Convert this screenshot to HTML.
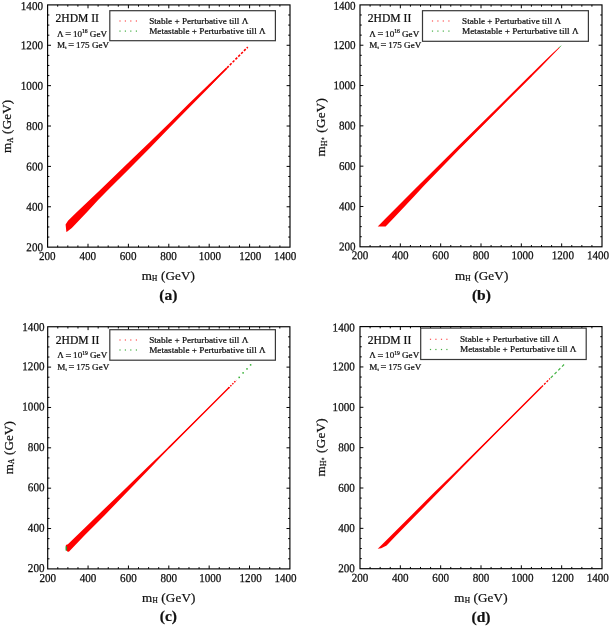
<!DOCTYPE html>
<html lang="en">
<head>
<meta charset="utf-8">
<title>2HDM II mass planes</title>
<style>
html,body{margin:0;padding:0;background:#fff;}
svg{display:block;will-change:transform;}
svg text{font-family:'Liberation Serif', 'DejaVu Serif', serif;fill:#111;stroke:#111;stroke-width:0.24;}
</style>
</head>
<body>
<svg width="610" height="626" viewBox="0 0 610 626">
<rect width="610" height="626" fill="#fff"/>
<polygon points="66.39,232.01 65.58,224.54 68,220.7 75.88,213.03 100.12,190.02 129.81,161.35 149.61,142.18 169.41,122.9 189,103.62 209.2,83.93 219.3,74.45 226.37,67.89 226.37,68.89 219.3,76.46 209.2,87.16 189,107.86 169.41,127.74 149.61,148.13 129.81,168.32 108.2,189.72 98.1,200.01 88,211.01 71.84,227.97 66.99,231.81" fill="#f00"/>
<line x1="209.2" y1="85.65" x2="226.77" y2="68.09" stroke="#f00" stroke-width="1.7"/>
<line x1="226.98" y1="67.89" x2="247.78" y2="47.09" stroke="#f00" stroke-width="1.6" stroke-dasharray="2.5 1.5"/>
<rect x="47.6" y="4.9" width="242.4" height="242.25" fill="none" stroke="#000" stroke-width="1.15"/>
<path d="M57.7 247.15v-1.75M57.7 4.9v1.75M47.6 237.06h1.75M290 237.06h-1.75M67.8 247.15v-1.75M67.8 4.9v1.75M47.6 226.96h1.75M290 226.96h-1.75M77.9 247.15v-1.75M77.9 4.9v1.75M47.6 216.87h1.75M290 216.87h-1.75M88 247.15v-3.4M88 4.9v3.4M47.6 206.78h3.4M290 206.78h-3.4M98.1 247.15v-1.75M98.1 4.9v1.75M47.6 196.68h1.75M290 196.68h-1.75M108.2 247.15v-1.75M108.2 4.9v1.75M47.6 186.59h1.75M290 186.59h-1.75M118.3 247.15v-1.75M118.3 4.9v1.75M47.6 176.49h1.75M290 176.49h-1.75M128.4 247.15v-3.4M128.4 4.9v3.4M47.6 166.4h3.4M290 166.4h-3.4M138.5 247.15v-1.75M138.5 4.9v1.75M47.6 156.31h1.75M290 156.31h-1.75M148.6 247.15v-1.75M148.6 4.9v1.75M47.6 146.21h1.75M290 146.21h-1.75M158.7 247.15v-1.75M158.7 4.9v1.75M47.6 136.12h1.75M290 136.12h-1.75M168.8 247.15v-3.4M168.8 4.9v3.4M47.6 126.03h3.4M290 126.03h-3.4M178.9 247.15v-1.75M178.9 4.9v1.75M47.6 115.93h1.75M290 115.93h-1.75M189 247.15v-1.75M189 4.9v1.75M47.6 105.84h1.75M290 105.84h-1.75M199.1 247.15v-1.75M199.1 4.9v1.75M47.6 95.74h1.75M290 95.74h-1.75M209.2 247.15v-3.4M209.2 4.9v3.4M47.6 85.65h3.4M290 85.65h-3.4M219.3 247.15v-1.75M219.3 4.9v1.75M47.6 75.56h1.75M290 75.56h-1.75M229.4 247.15v-1.75M229.4 4.9v1.75M47.6 65.46h1.75M290 65.46h-1.75M239.5 247.15v-1.75M239.5 4.9v1.75M47.6 55.37h1.75M290 55.37h-1.75M249.6 247.15v-3.4M249.6 4.9v3.4M47.6 45.28h3.4M290 45.28h-3.4M259.7 247.15v-1.75M259.7 4.9v1.75M47.6 35.18h1.75M290 35.18h-1.75M269.8 247.15v-1.75M269.8 4.9v1.75M47.6 25.09h1.75M290 25.09h-1.75M279.9 247.15v-1.75M279.9 4.9v1.75M47.6 14.99h1.75M290 14.99h-1.75" stroke="#000" stroke-width="1" fill="none"/>
<text transform="translate(43 251.15) rotate(0.03) scale(1 1.08)" font-size="11.1" text-anchor="end">200</text>
<text transform="translate(43 210.78) rotate(0.03) scale(1 1.08)" font-size="11.1" text-anchor="end">400</text>
<text transform="translate(43 170.4) rotate(0.03) scale(1 1.08)" font-size="11.1" text-anchor="end">600</text>
<text transform="translate(43 130.03) rotate(0.03) scale(1 1.08)" font-size="11.1" text-anchor="end">800</text>
<text transform="translate(43 89.65) rotate(0.03) scale(1 1.08)" font-size="11.1" text-anchor="end">1000</text>
<text transform="translate(43 49.28) rotate(0.03) scale(1 1.08)" font-size="11.1" text-anchor="end">1200</text>
<text transform="translate(43 10.1) rotate(0.03) scale(1 1.08)" font-size="11.1" text-anchor="end">1400</text>
<text transform="translate(47.3 259.95) rotate(0.03) scale(1 1.08)" font-size="11.1" text-anchor="middle">200</text>
<text transform="translate(87.7 259.95) rotate(0.03) scale(1 1.08)" font-size="11.1" text-anchor="middle">400</text>
<text transform="translate(128.1 259.95) rotate(0.03) scale(1 1.08)" font-size="11.1" text-anchor="middle">600</text>
<text transform="translate(168.5 259.95) rotate(0.03) scale(1 1.08)" font-size="11.1" text-anchor="middle">800</text>
<text transform="translate(209.9 259.95) rotate(0.03) scale(1 1.08)" font-size="11.1" text-anchor="middle">1000</text>
<text transform="translate(250.3 259.95) rotate(0.03) scale(1 1.08)" font-size="11.1" text-anchor="middle">1200</text>
<text transform="translate(285.2 259.95) rotate(0.03) scale(1 1.08)" font-size="11.1" text-anchor="middle">1400</text>
<text x="55.5" y="22.2" font-size="11.6">2HDM II</text>
<text x="57.1" y="36.7" font-size="9.1">Λ <tspan font-size="10.4" dy="0.25" dx="-0.5">=</tspan><tspan dy="-0.25" dx="-0.5"> </tspan>10<tspan font-size="5.6" dy="-3.7">16</tspan><tspan dy="3.7"> GeV</tspan></text>
<text x="57.1" y="47.9" font-size="9.1">M<tspan font-size="4.9" dy="1.2">t</tspan><tspan dy="-1.2"> </tspan><tspan font-size="10.4" dy="0.05" dx="-0.5">=</tspan><tspan dy="-0.05" dx="-0.5"> </tspan>175 GeV</text>
<rect x="109.8" y="10.7" width="165.6" height="30" fill="#fff" stroke="#383838" stroke-width="1.2"/>
<rect x="119.4" y="20.4" width="1.2" height="1.2" fill="#ff5050"/>
<rect x="119.4" y="30.5" width="1.2" height="1.2" fill="#44b044"/>
<rect x="124.8" y="20.4" width="1.2" height="1.2" fill="#ff5050"/>
<rect x="124.8" y="30.5" width="1.2" height="1.2" fill="#44b044"/>
<rect x="130.2" y="20.4" width="1.2" height="1.2" fill="#ff5050"/>
<rect x="130.2" y="30.5" width="1.2" height="1.2" fill="#44b044"/>
<rect x="135.8" y="20.4" width="1.2" height="1.2" fill="#ff5050"/>
<rect x="135.8" y="30.5" width="1.2" height="1.2" fill="#44b044"/>
<text x="149.2" y="23.8" font-size="9.2">Stable + Perturbative till Λ</text>
<text x="149.2" y="33.9" font-size="9.2">Metastable + Perturbative till Λ</text>
<text x="168.4" y="279.6" font-size="13.1" text-anchor="middle" letter-spacing="0.15">m<tspan font-size="7.34" dy="1.3">H</tspan><tspan dy="-1.3"> (GeV)</tspan></text>
<text transform="translate(11.2 126.4) rotate(-90)" font-size="13.1" text-anchor="middle" letter-spacing="0.15">m<tspan font-size="7.34" dy="1.3">A</tspan><tspan dy="-1.3"> (GeV)</tspan></text>
<text x="168.4" y="299.7" font-size="15.5" font-weight="bold" text-anchor="middle">(a)</text>
<polygon points="377.75,226.44 384.6,219.38 414.45,189.55 458.82,145.61 501.17,104.08 521.33,84.02 541.5,64.06 551.58,54.29 559.65,46.73 559.65,47.64 551.58,56.1 541.5,66.48 521.33,86.84 501.17,106.9 458.82,149.84 423.93,185.72 414.25,196.2 394.49,217.17 385.61,226.44" fill="#f00"/>
<line x1="460.83" y1="145.81" x2="531.42" y2="75.25" stroke="#f00" stroke-width="1.6"/>
<line x1="558.84" y1="47.94" x2="561.06" y2="45.72" stroke="#55b455" stroke-width="1.0"/>
<rect x="360" y="4.9" width="242" height="241.9" fill="none" stroke="#000" stroke-width="1.15"/>
<path d="M370.08 246.8v-1.75M370.08 4.9v1.75M360 236.72h1.75M602 236.72h-1.75M380.17 246.8v-1.75M380.17 4.9v1.75M360 226.64h1.75M602 226.64h-1.75M390.25 246.8v-1.75M390.25 4.9v1.75M360 216.56h1.75M602 216.56h-1.75M400.33 246.8v-3.4M400.33 4.9v3.4M360 206.48h3.4M602 206.48h-3.4M410.42 246.8v-1.75M410.42 4.9v1.75M360 196.4h1.75M602 196.4h-1.75M420.5 246.8v-1.75M420.5 4.9v1.75M360 186.33h1.75M602 186.33h-1.75M430.58 246.8v-1.75M430.58 4.9v1.75M360 176.25h1.75M602 176.25h-1.75M440.67 246.8v-3.4M440.67 4.9v3.4M360 166.17h3.4M602 166.17h-3.4M450.75 246.8v-1.75M450.75 4.9v1.75M360 156.09h1.75M602 156.09h-1.75M460.83 246.8v-1.75M460.83 4.9v1.75M360 146.01h1.75M602 146.01h-1.75M470.92 246.8v-1.75M470.92 4.9v1.75M360 135.93h1.75M602 135.93h-1.75M481 246.8v-3.4M481 4.9v3.4M360 125.85h3.4M602 125.85h-3.4M491.08 246.8v-1.75M491.08 4.9v1.75M360 115.77h1.75M602 115.77h-1.75M501.17 246.8v-1.75M501.17 4.9v1.75M360 105.69h1.75M602 105.69h-1.75M511.25 246.8v-1.75M511.25 4.9v1.75M360 95.61h1.75M602 95.61h-1.75M521.33 246.8v-3.4M521.33 4.9v3.4M360 85.53h3.4M602 85.53h-3.4M531.42 246.8v-1.75M531.42 4.9v1.75M360 75.45h1.75M602 75.45h-1.75M541.5 246.8v-1.75M541.5 4.9v1.75M360 65.38h1.75M602 65.38h-1.75M551.58 246.8v-1.75M551.58 4.9v1.75M360 55.3h1.75M602 55.3h-1.75M561.67 246.8v-3.4M561.67 4.9v3.4M360 45.22h3.4M602 45.22h-3.4M571.75 246.8v-1.75M571.75 4.9v1.75M360 35.14h1.75M602 35.14h-1.75M581.83 246.8v-1.75M581.83 4.9v1.75M360 25.06h1.75M602 25.06h-1.75M591.92 246.8v-1.75M591.92 4.9v1.75M360 14.98h1.75M602 14.98h-1.75" stroke="#000" stroke-width="1" fill="none"/>
<text transform="translate(355.6 250.55) rotate(0.03) scale(1 1.08)" font-size="11.1" text-anchor="end">200</text>
<text transform="translate(355.6 210.23) rotate(0.03) scale(1 1.08)" font-size="11.1" text-anchor="end">400</text>
<text transform="translate(355.6 169.92) rotate(0.03) scale(1 1.08)" font-size="11.1" text-anchor="end">600</text>
<text transform="translate(355.6 129.6) rotate(0.03) scale(1 1.08)" font-size="11.1" text-anchor="end">800</text>
<text transform="translate(355.6 89.28) rotate(0.03) scale(1 1.08)" font-size="11.1" text-anchor="end">1000</text>
<text transform="translate(355.6 48.97) rotate(0.03) scale(1 1.08)" font-size="11.1" text-anchor="end">1200</text>
<text transform="translate(355.6 9.85) rotate(0.03) scale(1 1.08)" font-size="11.1" text-anchor="end">1400</text>
<text transform="translate(360 259.2) rotate(0.03) scale(1 1.08)" font-size="11.1" text-anchor="middle">200</text>
<text transform="translate(400.33 259.2) rotate(0.03) scale(1 1.08)" font-size="11.1" text-anchor="middle">400</text>
<text transform="translate(440.67 259.2) rotate(0.03) scale(1 1.08)" font-size="11.1" text-anchor="middle">600</text>
<text transform="translate(481 259.2) rotate(0.03) scale(1 1.08)" font-size="11.1" text-anchor="middle">800</text>
<text transform="translate(522.53 259.2) rotate(0.03) scale(1 1.08)" font-size="11.1" text-anchor="middle">1000</text>
<text transform="translate(562.87 259.2) rotate(0.03) scale(1 1.08)" font-size="11.1" text-anchor="middle">1200</text>
<text transform="translate(598 259.2) rotate(0.03) scale(1 1.08)" font-size="11.1" text-anchor="middle">1400</text>
<text x="367.8" y="22.3" font-size="11.6">2HDM II</text>
<text x="369.3" y="36.7" font-size="9.1">Λ <tspan font-size="10.4" dy="0.25" dx="-0.5">=</tspan><tspan dy="-0.25" dx="-0.5"> </tspan>10<tspan font-size="5.6" dy="-3.7">16</tspan><tspan dy="3.7"> GeV</tspan></text>
<text x="369.3" y="47.9" font-size="9.1">M<tspan font-size="4.9" dy="1.2">t</tspan><tspan dy="-1.2"> </tspan><tspan font-size="10.4" dy="0.05" dx="-0.5">=</tspan><tspan dy="-0.05" dx="-0.5"> </tspan>175 GeV</text>
<rect x="422.5" y="10.7" width="165.9" height="30.6" fill="#fff" stroke="#383838" stroke-width="1.2"/>
<rect x="431.9" y="20.4" width="1.2" height="1.2" fill="#ff5050"/>
<rect x="431.9" y="30.5" width="1.2" height="1.2" fill="#44b044"/>
<rect x="437.3" y="20.4" width="1.2" height="1.2" fill="#ff5050"/>
<rect x="437.3" y="30.5" width="1.2" height="1.2" fill="#44b044"/>
<rect x="442.7" y="20.4" width="1.2" height="1.2" fill="#ff5050"/>
<rect x="442.7" y="30.5" width="1.2" height="1.2" fill="#44b044"/>
<rect x="448.3" y="20.4" width="1.2" height="1.2" fill="#ff5050"/>
<rect x="448.3" y="30.5" width="1.2" height="1.2" fill="#44b044"/>
<text x="462.1" y="23.8" font-size="9.2">Stable + Perturbative till Λ</text>
<text x="462.1" y="33.9" font-size="9.2">Metastable + Perturbative till Λ</text>
<text x="481.7" y="279.5" font-size="13.1" text-anchor="middle" letter-spacing="0.15">m<tspan font-size="7.34" dy="1.3">H</tspan><tspan dy="-1.3"> (GeV)</tspan></text>
<text transform="translate(325.4 127.1) rotate(-90)" font-size="13.1" text-anchor="middle" letter-spacing="0.3">m<tspan font-size="7.6" dy="1.3">H</tspan><tspan font-size="4.72" dy="-2.5">±</tspan><tspan dy="1.2" dx="0.9"> (GeV)</tspan></text>
<text x="481.4" y="299.9" font-size="15.5" font-weight="bold" text-anchor="middle">(b)</text>
<polygon points="67.28,551.55 65.87,549.53 65.87,545.09 67.88,544.28 84.43,528.34 104.21,508.97 120.36,493.43 148.62,466.09 160.73,454.59 178.89,436.83 199.07,416.95 229.35,386.88 229.35,387.49 199.07,418.06 178.89,438.54 160.73,457.11 148.62,469.72 120.36,498.88 104.21,515.83 84.43,535.6 68.89,551.75" fill="#f00"/>
<line x1="168.8" y1="447.82" x2="229.35" y2="387.29" stroke="#f00" stroke-width="1.35"/>
<line x1="228.34" y1="388.3" x2="236.41" y2="380.22" stroke="#f00" stroke-width="1.4" stroke-dasharray="1.6 1.2"/>
<rect x="238.45" y="376.65" width="1.5" height="1.5" fill="#2fae2f"/>
<rect x="242.35" y="372.15" width="1.5" height="1.5" fill="#2fae2f"/>
<rect x="246.25" y="368.15" width="1.5" height="1.5" fill="#2fae2f"/>
<rect x="249.85" y="364.15" width="1.5" height="1.5" fill="#2fae2f"/>
<rect x="65.6" y="546.2" width="1.4" height="4.4" fill="#2a9a2a"/>
<rect x="47.7" y="326.75" width="242.2" height="242.15" fill="none" stroke="#000" stroke-width="1.15"/>
<path d="M57.79 568.9v-1.75M57.79 326.75v1.75M47.7 558.81h1.75M289.9 558.81h-1.75M67.88 568.9v-1.75M67.88 326.75v1.75M47.7 548.72h1.75M289.9 548.72h-1.75M77.97 568.9v-1.75M77.97 326.75v1.75M47.7 538.63h1.75M289.9 538.63h-1.75M88.07 568.9v-3.4M88.07 326.75v3.4M47.7 528.54h3.4M289.9 528.54h-3.4M98.16 568.9v-1.75M98.16 326.75v1.75M47.7 518.45h1.75M289.9 518.45h-1.75M108.25 568.9v-1.75M108.25 326.75v1.75M47.7 508.36h1.75M289.9 508.36h-1.75M118.34 568.9v-1.75M118.34 326.75v1.75M47.7 498.27h1.75M289.9 498.27h-1.75M128.43 568.9v-3.4M128.43 326.75v3.4M47.7 488.18h3.4M289.9 488.18h-3.4M138.52 568.9v-1.75M138.52 326.75v1.75M47.7 478.09h1.75M289.9 478.09h-1.75M148.62 568.9v-1.75M148.62 326.75v1.75M47.7 468h1.75M289.9 468h-1.75M158.71 568.9v-1.75M158.71 326.75v1.75M47.7 457.91h1.75M289.9 457.91h-1.75M168.8 568.9v-3.4M168.8 326.75v3.4M47.7 447.82h3.4M289.9 447.82h-3.4M178.89 568.9v-1.75M178.89 326.75v1.75M47.7 437.74h1.75M289.9 437.74h-1.75M188.98 568.9v-1.75M188.98 326.75v1.75M47.7 427.65h1.75M289.9 427.65h-1.75M199.07 568.9v-1.75M199.07 326.75v1.75M47.7 417.56h1.75M289.9 417.56h-1.75M209.17 568.9v-3.4M209.17 326.75v3.4M47.7 407.47h3.4M289.9 407.47h-3.4M219.26 568.9v-1.75M219.26 326.75v1.75M47.7 397.38h1.75M289.9 397.38h-1.75M229.35 568.9v-1.75M229.35 326.75v1.75M47.7 387.29h1.75M289.9 387.29h-1.75M239.44 568.9v-1.75M239.44 326.75v1.75M47.7 377.2h1.75M289.9 377.2h-1.75M249.53 568.9v-3.4M249.53 326.75v3.4M47.7 367.11h3.4M289.9 367.11h-3.4M259.62 568.9v-1.75M259.62 326.75v1.75M47.7 357.02h1.75M289.9 357.02h-1.75M269.72 568.9v-1.75M269.72 326.75v1.75M47.7 346.93h1.75M289.9 346.93h-1.75M279.81 568.9v-1.75M279.81 326.75v1.75M47.7 336.84h1.75M289.9 336.84h-1.75" stroke="#000" stroke-width="1" fill="none"/>
<text transform="translate(44.5 572) rotate(0.03) scale(1 1.08)" font-size="11.1" text-anchor="end">200</text>
<text transform="translate(44.5 531.64) rotate(0.03) scale(1 1.08)" font-size="11.1" text-anchor="end">400</text>
<text transform="translate(44.5 491.28) rotate(0.03) scale(1 1.08)" font-size="11.1" text-anchor="end">600</text>
<text transform="translate(44.5 450.93) rotate(0.03) scale(1 1.08)" font-size="11.1" text-anchor="end">800</text>
<text transform="translate(44.5 410.57) rotate(0.03) scale(1 1.08)" font-size="11.1" text-anchor="end">1000</text>
<text transform="translate(44.5 370.21) rotate(0.03) scale(1 1.08)" font-size="11.1" text-anchor="end">1200</text>
<text transform="translate(44.5 331.05) rotate(0.03) scale(1 1.08)" font-size="11.1" text-anchor="end">1400</text>
<text transform="translate(47.7 582) rotate(0.03) scale(1 1.08)" font-size="11.1" text-anchor="middle">200</text>
<text transform="translate(88.07 582) rotate(0.03) scale(1 1.08)" font-size="11.1" text-anchor="middle">400</text>
<text transform="translate(128.43 582) rotate(0.03) scale(1 1.08)" font-size="11.1" text-anchor="middle">600</text>
<text transform="translate(168.8 582) rotate(0.03) scale(1 1.08)" font-size="11.1" text-anchor="middle">800</text>
<text transform="translate(210.27 582) rotate(0.03) scale(1 1.08)" font-size="11.1" text-anchor="middle">1000</text>
<text transform="translate(250.63 582) rotate(0.03) scale(1 1.08)" font-size="11.1" text-anchor="middle">1200</text>
<text transform="translate(285.5 582) rotate(0.03) scale(1 1.08)" font-size="11.1" text-anchor="middle">1400</text>
<text x="55.8" y="344.1" font-size="11.6">2HDM II</text>
<text x="57.3" y="358.4" font-size="9.1">Λ <tspan font-size="10.4" dy="0.55" dx="-0.5">=</tspan><tspan dy="-0.55" dx="-0.5"> </tspan>10<tspan font-size="5.6" dy="-3.7">19</tspan><tspan dy="3.7"> GeV</tspan></text>
<text x="57.3" y="369.6" font-size="9.1">M<tspan font-size="4.9" dy="1.2">t</tspan><tspan dy="-1.2"> </tspan><tspan font-size="10.4" dy="0.35" dx="-0.5">=</tspan><tspan dy="-0.35" dx="-0.5"> </tspan>175 GeV</text>
<rect x="109.8" y="329.7" width="165.6" height="30.5" fill="#fff" stroke="#383838" stroke-width="1.2"/>
<rect x="119.4" y="339.4" width="1.2" height="1.2" fill="#ff5050"/>
<rect x="119.4" y="349.4" width="1.2" height="1.2" fill="#44b044"/>
<rect x="124.8" y="339.4" width="1.2" height="1.2" fill="#ff5050"/>
<rect x="124.8" y="349.4" width="1.2" height="1.2" fill="#44b044"/>
<rect x="130.2" y="339.4" width="1.2" height="1.2" fill="#ff5050"/>
<rect x="130.2" y="349.4" width="1.2" height="1.2" fill="#44b044"/>
<rect x="135.8" y="339.4" width="1.2" height="1.2" fill="#ff5050"/>
<rect x="135.8" y="349.4" width="1.2" height="1.2" fill="#44b044"/>
<text x="149.2" y="342.6" font-size="9.2">Stable + Perturbative till Λ</text>
<text x="149.2" y="352.8" font-size="9.2">Metastable + Perturbative till Λ</text>
<text x="168.8" y="601.8" font-size="13.1" text-anchor="middle" letter-spacing="0.15">m<tspan font-size="7.34" dy="1.3">H</tspan><tspan dy="-1.3"> (GeV)</tspan></text>
<text transform="translate(12.8 447.6) rotate(-90)" font-size="13.1" text-anchor="middle" letter-spacing="0.15">m<tspan font-size="7.34" dy="1.3">A</tspan><tspan dy="-1.3"> (GeV)</tspan></text>
<text x="168.4" y="621.4" font-size="15.5" font-weight="bold" text-anchor="middle">(c)</text>
<polygon points="377.75,548.73 384.6,542.07 414.45,512.21 432.6,494.05 458.82,468.43 501.17,426.67 531.42,396.81 541.5,386.82 541.5,387.23 531.42,397.41 501.17,428.08 458.82,471.25 432.6,498.29 414.25,517.05 394.49,537.23 386.62,545.5 381.18,548.32" fill="#f00"/>
<line x1="460.83" y1="467.62" x2="541.5" y2="386.92" stroke="#f00" stroke-width="1.4"/>
<line x1="541.5" y1="387.02" x2="549.97" y2="378.55" stroke="#f00" stroke-width="1.3" stroke-dasharray="2.2 1.4"/>
<line x1="550.78" y1="377.84" x2="564.29" y2="364.33" stroke="#46b446" stroke-width="1.2" stroke-dasharray="2.9 2.4"/>
<rect x="360" y="326.6" width="242" height="242.1" fill="none" stroke="#000" stroke-width="1.15"/>
<path d="M370.08 568.7v-1.75M370.08 326.6v1.75M360 558.61h1.75M602 558.61h-1.75M380.17 568.7v-1.75M380.17 326.6v1.75M360 548.53h1.75M602 548.53h-1.75M390.25 568.7v-1.75M390.25 326.6v1.75M360 538.44h1.75M602 538.44h-1.75M400.33 568.7v-3.4M400.33 326.6v3.4M360 528.35h3.4M602 528.35h-3.4M410.42 568.7v-1.75M410.42 326.6v1.75M360 518.26h1.75M602 518.26h-1.75M420.5 568.7v-1.75M420.5 326.6v1.75M360 508.18h1.75M602 508.18h-1.75M430.58 568.7v-1.75M430.58 326.6v1.75M360 498.09h1.75M602 498.09h-1.75M440.67 568.7v-3.4M440.67 326.6v3.4M360 488h3.4M602 488h-3.4M450.75 568.7v-1.75M450.75 326.6v1.75M360 477.91h1.75M602 477.91h-1.75M460.83 568.7v-1.75M460.83 326.6v1.75M360 467.83h1.75M602 467.83h-1.75M470.92 568.7v-1.75M470.92 326.6v1.75M360 457.74h1.75M602 457.74h-1.75M481 568.7v-3.4M481 326.6v3.4M360 447.65h3.4M602 447.65h-3.4M491.08 568.7v-1.75M491.08 326.6v1.75M360 437.56h1.75M602 437.56h-1.75M501.17 568.7v-1.75M501.17 326.6v1.75M360 427.48h1.75M602 427.48h-1.75M511.25 568.7v-1.75M511.25 326.6v1.75M360 417.39h1.75M602 417.39h-1.75M521.33 568.7v-3.4M521.33 326.6v3.4M360 407.3h3.4M602 407.3h-3.4M531.42 568.7v-1.75M531.42 326.6v1.75M360 397.21h1.75M602 397.21h-1.75M541.5 568.7v-1.75M541.5 326.6v1.75M360 387.12h1.75M602 387.12h-1.75M551.58 568.7v-1.75M551.58 326.6v1.75M360 377.04h1.75M602 377.04h-1.75M561.67 568.7v-3.4M561.67 326.6v3.4M360 366.95h3.4M602 366.95h-3.4M571.75 568.7v-1.75M571.75 326.6v1.75M360 356.86h1.75M602 356.86h-1.75M581.83 568.7v-1.75M581.83 326.6v1.75M360 346.78h1.75M602 346.78h-1.75M591.92 568.7v-1.75M591.92 326.6v1.75M360 336.69h1.75M602 336.69h-1.75" stroke="#000" stroke-width="1" fill="none"/>
<text transform="translate(354.8 572.35) rotate(0.03) scale(1 1.08)" font-size="11.1" text-anchor="end">200</text>
<text transform="translate(354.8 532) rotate(0.03) scale(1 1.08)" font-size="11.1" text-anchor="end">400</text>
<text transform="translate(354.8 491.65) rotate(0.03) scale(1 1.08)" font-size="11.1" text-anchor="end">600</text>
<text transform="translate(354.8 451.3) rotate(0.03) scale(1 1.08)" font-size="11.1" text-anchor="end">800</text>
<text transform="translate(354.8 410.95) rotate(0.03) scale(1 1.08)" font-size="11.1" text-anchor="end">1000</text>
<text transform="translate(354.8 370.6) rotate(0.03) scale(1 1.08)" font-size="11.1" text-anchor="end">1200</text>
<text transform="translate(354.8 331.45) rotate(0.03) scale(1 1.08)" font-size="11.1" text-anchor="end">1400</text>
<text transform="translate(360 581.8) rotate(0.03) scale(1 1.08)" font-size="11.1" text-anchor="middle">200</text>
<text transform="translate(400.33 581.8) rotate(0.03) scale(1 1.08)" font-size="11.1" text-anchor="middle">400</text>
<text transform="translate(440.67 581.8) rotate(0.03) scale(1 1.08)" font-size="11.1" text-anchor="middle">600</text>
<text transform="translate(481 581.8) rotate(0.03) scale(1 1.08)" font-size="11.1" text-anchor="middle">800</text>
<text transform="translate(522.33 581.8) rotate(0.03) scale(1 1.08)" font-size="11.1" text-anchor="middle">1000</text>
<text transform="translate(562.67 581.8) rotate(0.03) scale(1 1.08)" font-size="11.1" text-anchor="middle">1200</text>
<text transform="translate(597.8 581.8) rotate(0.03) scale(1 1.08)" font-size="11.1" text-anchor="middle">1400</text>
<text x="367.8" y="344.1" font-size="11.6">2HDM II</text>
<text x="369.3" y="358.4" font-size="9.1">Λ <tspan font-size="10.4" dy="0.55" dx="-0.5">=</tspan><tspan dy="-0.55" dx="-0.5"> </tspan>10<tspan font-size="5.6" dy="-3.7">19</tspan><tspan dy="3.7"> GeV</tspan></text>
<text x="369.3" y="369.6" font-size="9.1">M<tspan font-size="4.9" dy="1.2">t</tspan><tspan dy="-1.2"> </tspan><tspan font-size="10.4" dy="0.35" dx="-0.5">=</tspan><tspan dy="-0.35" dx="-0.5"> </tspan>175 GeV</text>
<rect x="420.7" y="328.1" width="165.5" height="31.4" fill="#fff" stroke="#383838" stroke-width="1.2"/>
<rect x="429.9" y="338.7" width="1.2" height="1.2" fill="#ff5050"/>
<rect x="429.9" y="348.9" width="1.2" height="1.2" fill="#44b044"/>
<rect x="435.3" y="338.7" width="1.2" height="1.2" fill="#ff5050"/>
<rect x="435.3" y="348.9" width="1.2" height="1.2" fill="#44b044"/>
<rect x="440.9" y="338.7" width="1.2" height="1.2" fill="#ff5050"/>
<rect x="440.9" y="348.9" width="1.2" height="1.2" fill="#44b044"/>
<rect x="446.3" y="338.7" width="1.2" height="1.2" fill="#ff5050"/>
<rect x="446.3" y="348.9" width="1.2" height="1.2" fill="#44b044"/>
<text x="460" y="342.1" font-size="9.2">Stable + Perturbative till Λ</text>
<text x="460" y="352.3" font-size="9.2">Metastable + Perturbative till Λ</text>
<text x="481" y="601.5" font-size="13.1" text-anchor="middle" letter-spacing="0.15">m<tspan font-size="7.34" dy="1.3">H</tspan><tspan dy="-1.3"> (GeV)</tspan></text>
<text transform="translate(325.1 447.3) rotate(-90)" font-size="13.1" text-anchor="middle" letter-spacing="0.3">m<tspan font-size="7.6" dy="1.3">H</tspan><tspan font-size="4.72" dy="-2.5">±</tspan><tspan dy="1.2" dx="0.9"> (GeV)</tspan></text>
<text x="481" y="621.5" font-size="15.5" font-weight="bold" text-anchor="middle">(d)</text>
</svg>
</body>
</html>
